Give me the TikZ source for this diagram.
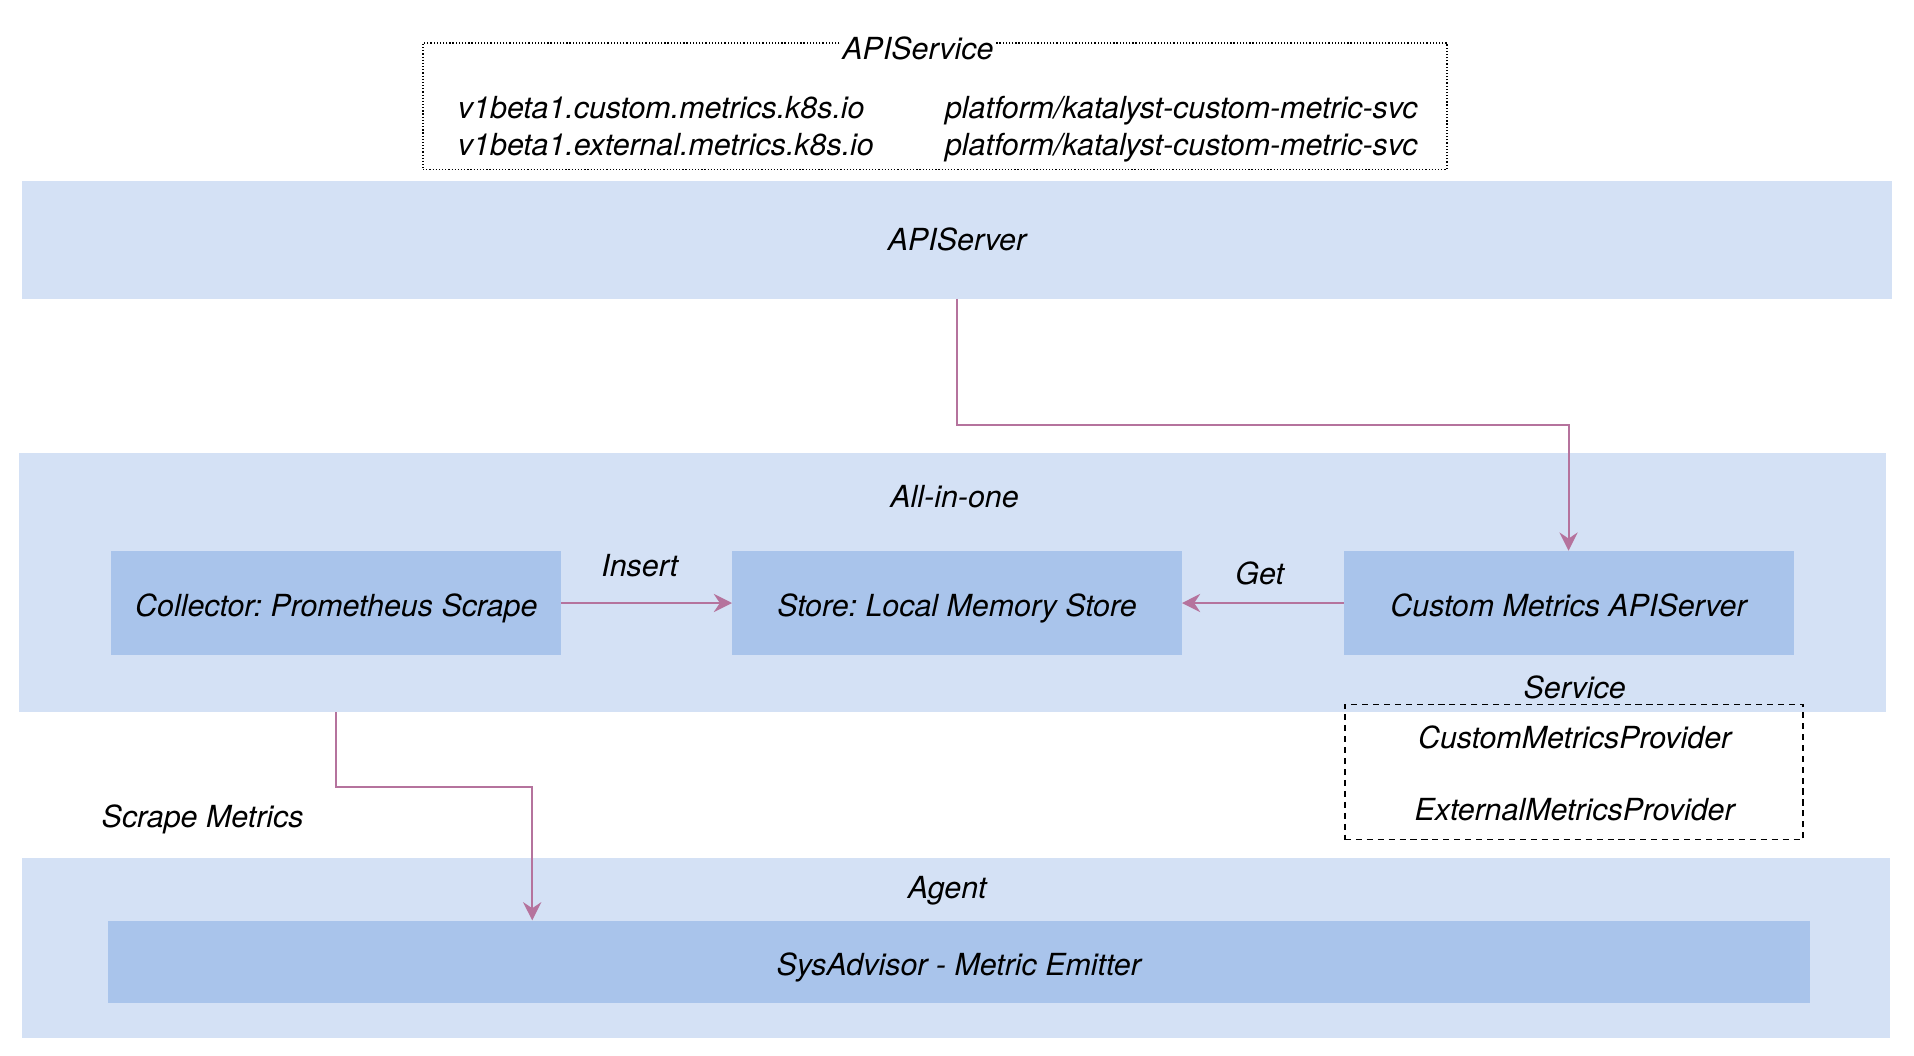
\documentclass[tikz,border=0pt]{standalone}
\usepackage{fontspec}
\setmainfont{TeX Gyre Heros}
\usetikzlibrary{arrows.meta}
\definecolor{bandblue}{HTML}{D4E1F5}
\definecolor{boxblue}{HTML}{A9C4EB}
\definecolor{flowpink}{HTML}{B5739D}
\frenchspacing

\begin{document}
\begin{tikzpicture}[x=1bp,y=-1bp,
		txt/.style={font=\itshape\fontsize{25}{30}\selectfont,inner sep=1pt,text height=20bp,text depth=2bp},
		band/.style={txt,fill=bandblue,inner sep=0pt,outer sep=0pt},
		part/.style={txt,fill=boxblue,inner sep=0pt,outer sep=0pt,minimum width=370,minimum height=86,text height=22bp,text depth=0bp},
		flow/.style={draw=flowpink,line width=1.6pt,-{Stealth[length=15pt,width=15pt,inset=5pt]}}]
		\useasboundingbox (0,0) rectangle (1568,865);
		% APIService registration
		\node[draw,dash pattern=on 1pt off 1.6pt,line width=1pt,minimum width=842,minimum height=104,inner sep=0pt] (apisvc) at (766,87) {};
		\node[txt,fill=white] (apisvctitle) at (752,40) {APIService};
		\node[txt,anchor=west] (custgrp) at (374,88) {v1beta1.custom.metrics.k8s.io};
		\node[txt,anchor=west] (extgrp) at (374,118) {v1beta1.external.metrics.k8s.io};
		\node[txt,anchor=west] (custsvc) at (773,88) {platform/katalyst-custom-metric-svc};
		\node[txt,anchor=west] (extsvc) at (773,118) {platform/katalyst-custom-metric-svc};
		% layers
		\node[band,minimum width=1538,minimum height=97] (apisrv) at (784,196.5) {APIServer};
		\node[band,minimum width=1535,minimum height=213] (allinone) at (780.5,477.5) {};
		\node[txt] (allinonetitle) at (782,407) {All-in-one};
		\node[band,minimum width=1536,minimum height=148] (agent) at (783,777) {};
		\node[txt] (agenttitle) at (776,727) {Agent};
		% components
		\node[part] (collector) at (275.5,494) {Collector: Prometheus Scrape};
		\node[part] (store) at (784,494) {Store: Local Memory Store};
		\node[part] (custom) at (1285,494) {Custom Metrics APIServer};
		\node[part,minimum width=1399,minimum height=68] (sysadv) at (785.5,788) {SysAdvisor - Metric Emitter};
		% service providers
		\node[draw,dash pattern=on 5pt off 4pt,line width=1.5pt,minimum width=377,minimum height=111,inner sep=0pt] (svc) at (1289.5,632.5) {};
		\node[txt] (svctitle) at (1290,563) {Service};
		\node[txt] (custprov) at (1290,604) {CustomMetricsProvider};
		\node[txt] (extprov) at (1290,663) {ExternalMetricsProvider};
		% flows
		\draw[flow] (apisrv.south) -- ++(0,103) -| (custom.north);
		\draw[flow] (collector) -- (store);
		\draw[flow] (custom) -- (store);
		\coordinate (emitin) at (436,754);
		\draw[flow] (collector.south |- allinone.south) -- ++(0,61) -| (emitin);
		\node[txt] (insertlbl) at (524,463) {Insert};
		\node[txt] (getlbl) at (1032,470) {Get};
		\node[txt] (scrapelbl) at (166,669) {Scrape Metrics};
	\end{tikzpicture}
\end{document}
